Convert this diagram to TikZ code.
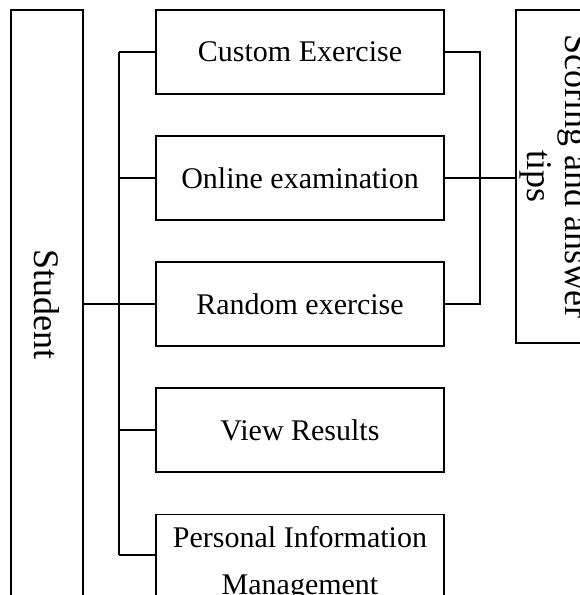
\documentclass[tikz,border=0pt]{standalone}
\usepackage{fontspec}
\setmainfont{Liberation Serif}
\usetikzlibrary{calc}

\begin{document}
\begin{tikzpicture}[x=1pt,y=-1pt,line width=1.3pt,
  item/.style={draw,minimum width=288,minimum height=84,inner sep=1pt,align=center,font=\fontsize{30}{47}\selectfont},
  side/.style={draw,rotate=-90,inner sep=1pt,align=flush center,font=\fontsize{36}{38}\selectfont}]
\useasboundingbox (0,0) rectangle (579,595);

\node[side,minimum width=588,minimum height=72] (student) at (47,304) {Student};

\node[item] (custom) at (300,52) {Custom Exercise};
\node[item] (online) at (300,178) {Online examination};
\node[item] (rand) at (300,304) {Random exercise};
\node[item] (view) at (300,430) {View Results};
\node[item,anchor=north,inner ysep=12pt] (pim) at (300,514) {Personal Information\\Management};
\coordinate (pimin) at ($(pim.north west)+(0,41)$);

\node[side,minimum width=333,minimum height=78,text width=322] (score) at (555,176.5) {Scoring and answer tips};

\coordinate (trunk) at (119,0);
\coordinate (bus) at (480,0);

% left tree
\draw (student.north) -- (rand.west);
\draw (custom.west -| trunk) -- (pimin -| trunk);
\foreach \n in {custom.west,online.west,rand.west,view.west,pimin}
  \draw (\n) -- (\n -| trunk);

% right side
\draw (custom.east) -- (custom.east -| bus) -- (rand.east -| bus) -- (rand.east);
\draw (online.east) -- (online.east -| score.south);
\end{tikzpicture}
\end{document}
